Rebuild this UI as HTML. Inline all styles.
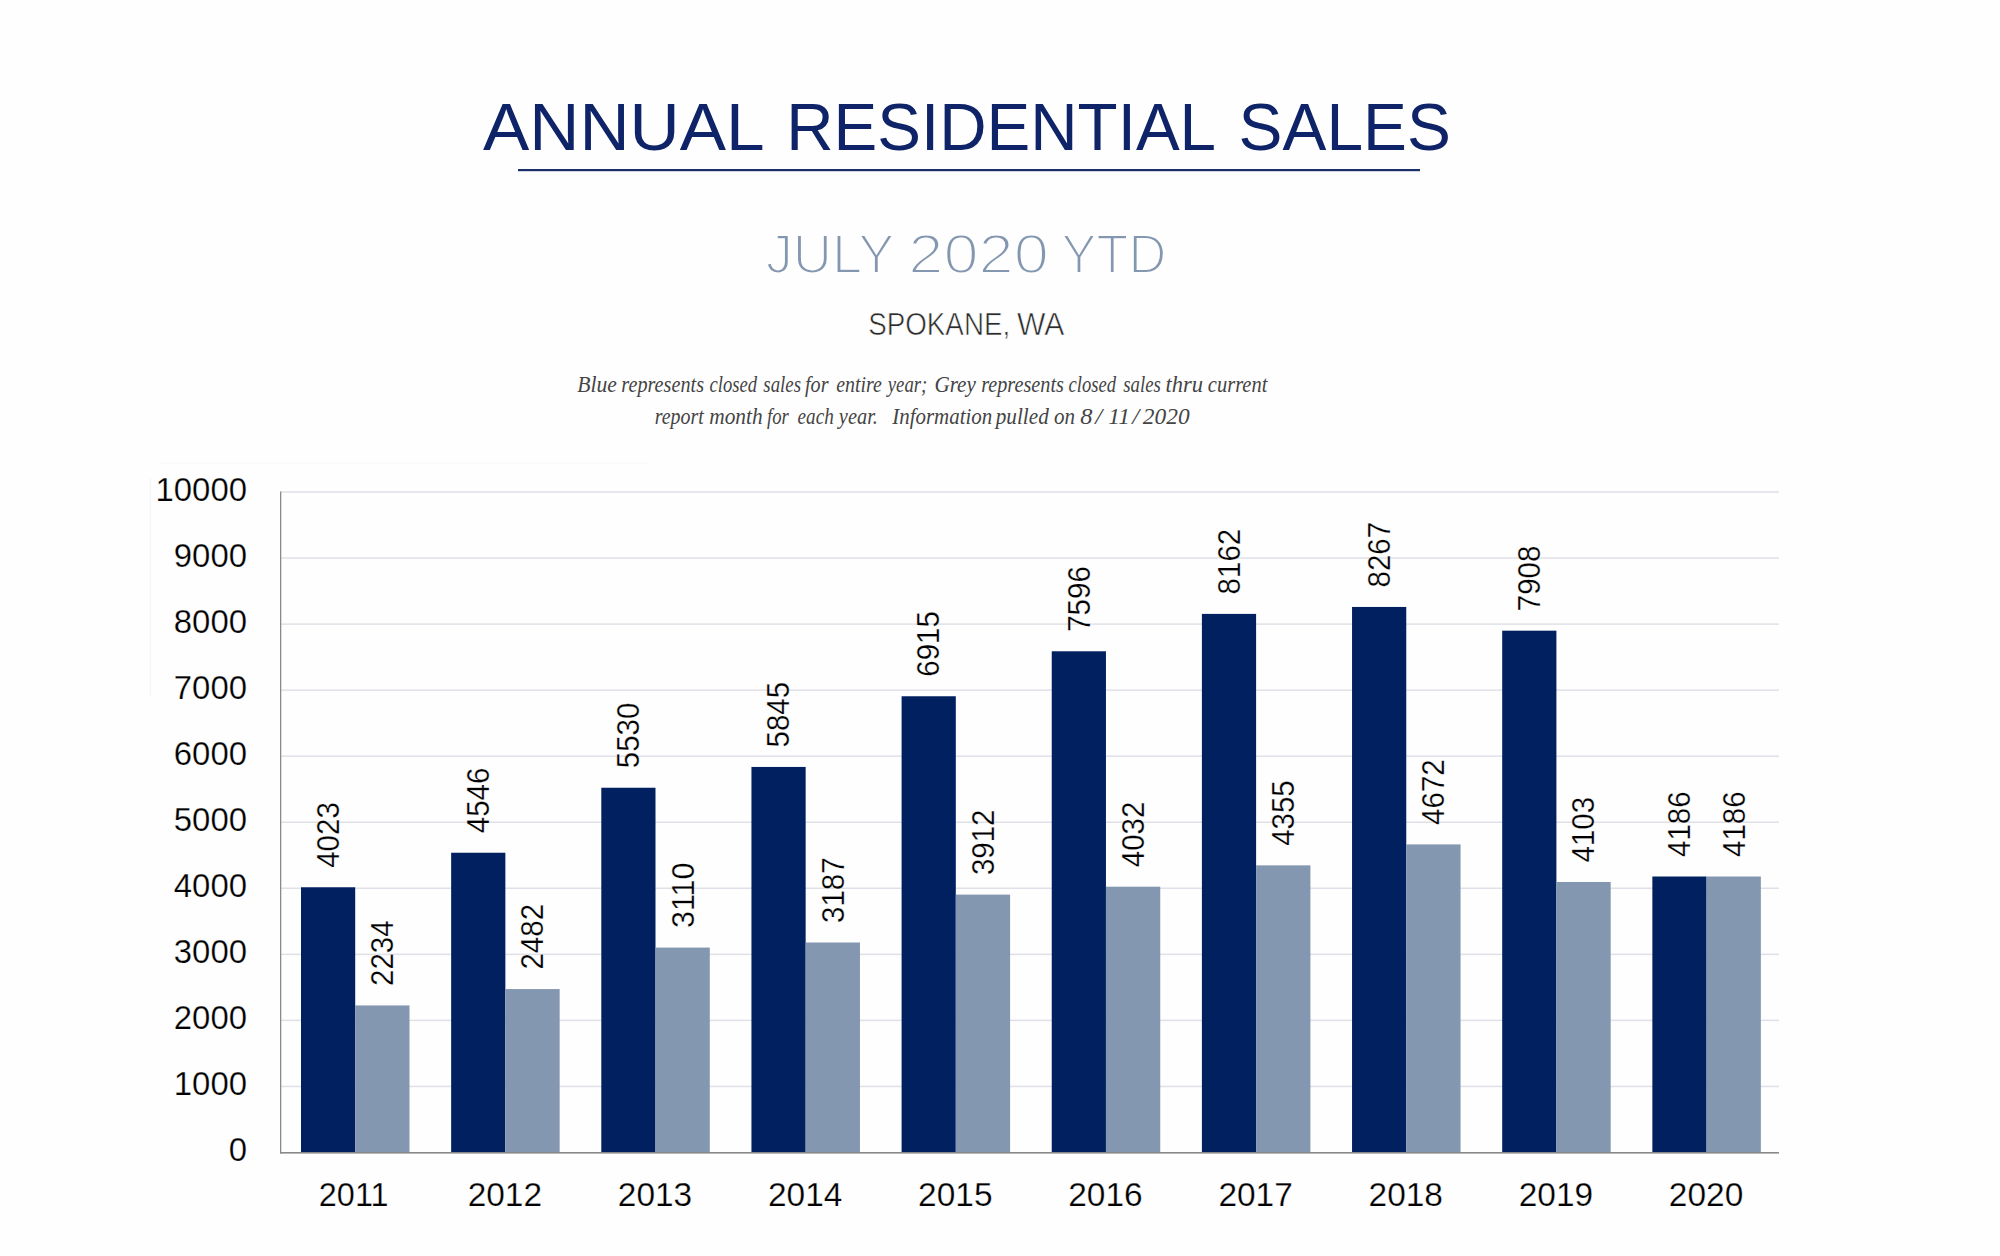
<!DOCTYPE html><html><head><meta charset="utf-8"><style>html,body{margin:0;padding:0;background:#fff;width:2000px;height:1256px;overflow:hidden}svg{display:block}</style></head><body>
<svg width="2000" height="1256" viewBox="0 0 2000 1256">
<rect width="2000" height="1256" fill="#fefefe"/>
<text x="483" y="150" font-family="&quot;Liberation Sans&quot;, sans-serif" font-size="66" fill="#0f2468" textLength="281.6" lengthAdjust="spacingAndGlyphs">ANNUAL</text>
<text x="786.2" y="150" font-family="&quot;Liberation Sans&quot;, sans-serif" font-size="66" fill="#0f2468" textLength="429.9" lengthAdjust="spacingAndGlyphs">RESIDENTIAL</text>
<text x="1238.6" y="150" font-family="&quot;Liberation Sans&quot;, sans-serif" font-size="66" fill="#0f2468" textLength="212.2" lengthAdjust="spacingAndGlyphs">SALES</text>
<rect x="518" y="169" width="902" height="2.2" fill="#1b2f6a"/>
<text x="765.7" y="272.5" font-family="&quot;Liberation Sans&quot;, sans-serif" font-size="55.5" fill="#8497b0" stroke="#fefefe" stroke-width="2.2" textLength="128.8" lengthAdjust="spacingAndGlyphs">JULY</text>
<text x="908.3" y="272.5" font-family="&quot;Liberation Sans&quot;, sans-serif" font-size="55.5" fill="#8497b0" stroke="#fefefe" stroke-width="2.2" textLength="140.5" lengthAdjust="spacingAndGlyphs">2020</text>
<text x="1061.4" y="272.5" font-family="&quot;Liberation Sans&quot;, sans-serif" font-size="55.5" fill="#8497b0" stroke="#fefefe" stroke-width="2.2" textLength="104.9" lengthAdjust="spacingAndGlyphs">YTD</text>
<text x="868.2" y="334.5" font-family="&quot;Liberation Sans&quot;, sans-serif" font-size="31" fill="#2b2b2b" stroke="#fefefe" stroke-width="0.6" textLength="142.0" lengthAdjust="spacingAndGlyphs">SPOKANE,</text>
<text x="1017" y="334.5" font-family="&quot;Liberation Sans&quot;, sans-serif" font-size="31" fill="#2b2b2b" stroke="#fefefe" stroke-width="0.6" textLength="47.4" lengthAdjust="spacingAndGlyphs">WA</text>
<text x="577.18" y="392" font-family="&quot;Liberation Serif&quot;, serif" font-style="italic" font-size="23.5" fill="#444" textLength="39.69" lengthAdjust="spacingAndGlyphs">Blue</text>
<text x="621.34" y="392" font-family="&quot;Liberation Serif&quot;, serif" font-style="italic" font-size="23.5" fill="#444" textLength="82.67" lengthAdjust="spacingAndGlyphs">represents</text>
<text x="709.51" y="392" font-family="&quot;Liberation Serif&quot;, serif" font-style="italic" font-size="23.5" fill="#444" textLength="47.53" lengthAdjust="spacingAndGlyphs">closed</text>
<text x="763.3" y="392" font-family="&quot;Liberation Serif&quot;, serif" font-style="italic" font-size="23.5" fill="#444" textLength="37.7" lengthAdjust="spacingAndGlyphs">sales</text>
<text x="805.0" y="392" font-family="&quot;Liberation Serif&quot;, serif" font-style="italic" font-size="23.5" fill="#444" textLength="23.46" lengthAdjust="spacingAndGlyphs">for</text>
<text x="836.15" y="392" font-family="&quot;Liberation Serif&quot;, serif" font-style="italic" font-size="23.5" fill="#444" textLength="45.65" lengthAdjust="spacingAndGlyphs">entire</text>
<text x="887.72" y="392" font-family="&quot;Liberation Serif&quot;, serif" font-style="italic" font-size="23.5" fill="#444" textLength="39.65" lengthAdjust="spacingAndGlyphs">year;</text>
<text x="934.4" y="392" font-family="&quot;Liberation Serif&quot;, serif" font-style="italic" font-size="23.5" fill="#444" textLength="41.5" lengthAdjust="spacingAndGlyphs">Grey</text>
<text x="981.14" y="392" font-family="&quot;Liberation Serif&quot;, serif" font-style="italic" font-size="23.5" fill="#444" textLength="82.87" lengthAdjust="spacingAndGlyphs">represents</text>
<text x="1068.51" y="392" font-family="&quot;Liberation Serif&quot;, serif" font-style="italic" font-size="23.5" fill="#444" textLength="47.53" lengthAdjust="spacingAndGlyphs">closed</text>
<text x="1123.2" y="392" font-family="&quot;Liberation Serif&quot;, serif" font-style="italic" font-size="23.5" fill="#444" textLength="37.6" lengthAdjust="spacingAndGlyphs">sales</text>
<text x="1165.38" y="392" font-family="&quot;Liberation Serif&quot;, serif" font-style="italic" font-size="23.5" fill="#444" textLength="37.53" lengthAdjust="spacingAndGlyphs">thru</text>
<text x="1207.83" y="392" font-family="&quot;Liberation Serif&quot;, serif" font-style="italic" font-size="23.5" fill="#444" textLength="59.57" lengthAdjust="spacingAndGlyphs">current</text>
<text x="654.65" y="424" font-family="&quot;Liberation Serif&quot;, serif" font-style="italic" font-size="23.5" fill="#444" textLength="49.05" lengthAdjust="spacingAndGlyphs">report</text>
<text x="709.19" y="424" font-family="&quot;Liberation Serif&quot;, serif" font-style="italic" font-size="23.5" fill="#444" textLength="53.49" lengthAdjust="spacingAndGlyphs">month</text>
<text x="767.0" y="424" font-family="&quot;Liberation Serif&quot;, serif" font-style="italic" font-size="23.5" fill="#444" textLength="21.79" lengthAdjust="spacingAndGlyphs">for</text>
<text x="797.58" y="424" font-family="&quot;Liberation Serif&quot;, serif" font-style="italic" font-size="23.5" fill="#444" textLength="36.24" lengthAdjust="spacingAndGlyphs">each</text>
<text x="838.87" y="424" font-family="&quot;Liberation Serif&quot;, serif" font-style="italic" font-size="23.5" fill="#444" textLength="39.03" lengthAdjust="spacingAndGlyphs">year.</text>
<text x="892.2" y="424" font-family="&quot;Liberation Serif&quot;, serif" font-style="italic" font-size="23.5" fill="#444" textLength="100.14" lengthAdjust="spacingAndGlyphs">Information</text>
<text x="995.7" y="424" font-family="&quot;Liberation Serif&quot;, serif" font-style="italic" font-size="23.5" fill="#444" textLength="53.07" lengthAdjust="spacingAndGlyphs">pulled</text>
<text x="1054.1" y="424" font-family="&quot;Liberation Serif&quot;, serif" font-style="italic" font-size="23.5" fill="#444" textLength="21.04" lengthAdjust="spacingAndGlyphs">on</text>
<text x="1080.26" y="424" font-family="&quot;Liberation Serif&quot;, serif" font-style="italic" font-size="23.5" fill="#444" textLength="12.18" lengthAdjust="spacingAndGlyphs">8</text>
<text x="1095.27" y="424" font-family="&quot;Liberation Serif&quot;, serif" font-style="italic" font-size="23.5" fill="#444" textLength="6.97" lengthAdjust="spacingAndGlyphs">/</text>
<text x="1108.2" y="424" font-family="&quot;Liberation Serif&quot;, serif" font-style="italic" font-size="23.5" fill="#444" textLength="21.77" lengthAdjust="spacingAndGlyphs">11</text>
<text x="1132.17" y="424" font-family="&quot;Liberation Serif&quot;, serif" font-style="italic" font-size="23.5" fill="#444" textLength="6.97" lengthAdjust="spacingAndGlyphs">/</text>
<text x="1142.8" y="424" font-family="&quot;Liberation Serif&quot;, serif" font-style="italic" font-size="23.5" fill="#444" textLength="46.8" lengthAdjust="spacingAndGlyphs">2020</text>
<rect x="160" y="462.5" width="488" height="1" fill="#f6f6f6"/>
<rect x="149.5" y="478" width="1.4" height="217" fill="#f6f6f6"/>
<rect x="281" y="1085.70" width="1498" height="1.5" fill="#e0e0e8"/>
<rect x="281" y="1019.65" width="1498" height="1.5" fill="#e0e0e8"/>
<rect x="281" y="953.60" width="1498" height="1.5" fill="#e0e0e8"/>
<rect x="281" y="887.55" width="1498" height="1.5" fill="#e0e0e8"/>
<rect x="281" y="821.50" width="1498" height="1.5" fill="#e0e0e8"/>
<rect x="281" y="755.45" width="1498" height="1.5" fill="#e0e0e8"/>
<rect x="281" y="689.40" width="1498" height="1.5" fill="#e0e0e8"/>
<rect x="281" y="623.35" width="1498" height="1.5" fill="#e0e0e8"/>
<rect x="281" y="557.30" width="1498" height="1.5" fill="#e0e0e8"/>
<rect x="281" y="491.25" width="1498" height="1.5" fill="#e0e0e8"/>
<rect x="301.00" y="887.28" width="54.2" height="265.72" fill="#002060"/>
<rect x="355.20" y="1005.44" width="54.3" height="147.56" fill="#8497b0"/>
<text transform="translate(338.75,867.78) rotate(-90)" font-family="&quot;Liberation Sans&quot;, sans-serif" font-size="31.2" fill="#000" stroke="#fefefe" stroke-width="0.25" textLength="65.6" lengthAdjust="spacingAndGlyphs">4023</text>
<text transform="translate(393.25,985.94) rotate(-90)" font-family="&quot;Liberation Sans&quot;, sans-serif" font-size="31.2" fill="#000" stroke="#fefefe" stroke-width="0.25" textLength="65.6" lengthAdjust="spacingAndGlyphs">2234</text>
<text x="353.70" y="1206" text-anchor="middle" font-family="&quot;Liberation Sans&quot;, sans-serif" font-size="32.4" fill="#000" stroke="#fefefe" stroke-width="0.25">2011</text>
<rect x="451.15" y="852.74" width="54.2" height="300.26" fill="#002060"/>
<rect x="505.35" y="989.06" width="54.3" height="163.94" fill="#8497b0"/>
<text transform="translate(488.90,833.24) rotate(-90)" font-family="&quot;Liberation Sans&quot;, sans-serif" font-size="31.2" fill="#000" stroke="#fefefe" stroke-width="0.25" textLength="65.6" lengthAdjust="spacingAndGlyphs">4546</text>
<text transform="translate(543.40,969.56) rotate(-90)" font-family="&quot;Liberation Sans&quot;, sans-serif" font-size="31.2" fill="#000" stroke="#fefefe" stroke-width="0.25" textLength="65.6" lengthAdjust="spacingAndGlyphs">2482</text>
<text x="504.85" y="1206" text-anchor="middle" font-family="&quot;Liberation Sans&quot;, sans-serif" font-size="32.4" fill="#000" stroke="#fefefe" stroke-width="0.25" textLength="74.4" lengthAdjust="spacingAndGlyphs">2012</text>
<rect x="601.30" y="787.74" width="54.2" height="365.26" fill="#002060"/>
<rect x="655.50" y="947.58" width="54.3" height="205.42" fill="#8497b0"/>
<text transform="translate(639.05,768.24) rotate(-90)" font-family="&quot;Liberation Sans&quot;, sans-serif" font-size="31.2" fill="#000" stroke="#fefefe" stroke-width="0.25" textLength="65.6" lengthAdjust="spacingAndGlyphs">5530</text>
<text transform="translate(693.55,928.08) rotate(-90)" font-family="&quot;Liberation Sans&quot;, sans-serif" font-size="31.2" fill="#000" stroke="#fefefe" stroke-width="0.25" textLength="65.6" lengthAdjust="spacingAndGlyphs">3110</text>
<text x="655.00" y="1206" text-anchor="middle" font-family="&quot;Liberation Sans&quot;, sans-serif" font-size="32.4" fill="#000" stroke="#fefefe" stroke-width="0.25" textLength="74.4" lengthAdjust="spacingAndGlyphs">2013</text>
<rect x="751.45" y="766.94" width="54.2" height="386.06" fill="#002060"/>
<rect x="805.65" y="942.50" width="54.3" height="210.50" fill="#8497b0"/>
<text transform="translate(789.20,747.44) rotate(-90)" font-family="&quot;Liberation Sans&quot;, sans-serif" font-size="31.2" fill="#000" stroke="#fefefe" stroke-width="0.25" textLength="65.6" lengthAdjust="spacingAndGlyphs">5845</text>
<text transform="translate(843.70,923.00) rotate(-90)" font-family="&quot;Liberation Sans&quot;, sans-serif" font-size="31.2" fill="#000" stroke="#fefefe" stroke-width="0.25" textLength="65.6" lengthAdjust="spacingAndGlyphs">3187</text>
<text x="805.15" y="1206" text-anchor="middle" font-family="&quot;Liberation Sans&quot;, sans-serif" font-size="32.4" fill="#000" stroke="#fefefe" stroke-width="0.25" textLength="74.4" lengthAdjust="spacingAndGlyphs">2014</text>
<rect x="901.60" y="696.26" width="54.2" height="456.74" fill="#002060"/>
<rect x="955.80" y="894.61" width="54.3" height="258.39" fill="#8497b0"/>
<text transform="translate(939.35,676.76) rotate(-90)" font-family="&quot;Liberation Sans&quot;, sans-serif" font-size="31.2" fill="#000" stroke="#fefefe" stroke-width="0.25" textLength="65.6" lengthAdjust="spacingAndGlyphs">6915</text>
<text transform="translate(993.85,875.11) rotate(-90)" font-family="&quot;Liberation Sans&quot;, sans-serif" font-size="31.2" fill="#000" stroke="#fefefe" stroke-width="0.25" textLength="65.6" lengthAdjust="spacingAndGlyphs">3912</text>
<text x="955.30" y="1206" text-anchor="middle" font-family="&quot;Liberation Sans&quot;, sans-serif" font-size="32.4" fill="#000" stroke="#fefefe" stroke-width="0.25" textLength="74.4" lengthAdjust="spacingAndGlyphs">2015</text>
<rect x="1051.75" y="651.28" width="54.2" height="501.72" fill="#002060"/>
<rect x="1105.95" y="886.69" width="54.3" height="266.31" fill="#8497b0"/>
<text transform="translate(1089.50,631.78) rotate(-90)" font-family="&quot;Liberation Sans&quot;, sans-serif" font-size="31.2" fill="#000" stroke="#fefefe" stroke-width="0.25" textLength="65.6" lengthAdjust="spacingAndGlyphs">7596</text>
<text transform="translate(1144.00,867.19) rotate(-90)" font-family="&quot;Liberation Sans&quot;, sans-serif" font-size="31.2" fill="#000" stroke="#fefefe" stroke-width="0.25" textLength="65.6" lengthAdjust="spacingAndGlyphs">4032</text>
<text x="1105.45" y="1206" text-anchor="middle" font-family="&quot;Liberation Sans&quot;, sans-serif" font-size="32.4" fill="#000" stroke="#fefefe" stroke-width="0.25" textLength="74.4" lengthAdjust="spacingAndGlyphs">2016</text>
<rect x="1201.90" y="613.90" width="54.2" height="539.10" fill="#002060"/>
<rect x="1256.10" y="865.35" width="54.3" height="287.65" fill="#8497b0"/>
<text transform="translate(1239.65,594.40) rotate(-90)" font-family="&quot;Liberation Sans&quot;, sans-serif" font-size="31.2" fill="#000" stroke="#fefefe" stroke-width="0.25" textLength="65.6" lengthAdjust="spacingAndGlyphs">8162</text>
<text transform="translate(1294.15,845.85) rotate(-90)" font-family="&quot;Liberation Sans&quot;, sans-serif" font-size="31.2" fill="#000" stroke="#fefefe" stroke-width="0.25" textLength="65.6" lengthAdjust="spacingAndGlyphs">4355</text>
<text x="1255.60" y="1206" text-anchor="middle" font-family="&quot;Liberation Sans&quot;, sans-serif" font-size="32.4" fill="#000" stroke="#fefefe" stroke-width="0.25" textLength="74.4" lengthAdjust="spacingAndGlyphs">2017</text>
<rect x="1352.05" y="606.96" width="54.2" height="546.04" fill="#002060"/>
<rect x="1406.25" y="844.41" width="54.3" height="308.59" fill="#8497b0"/>
<text transform="translate(1389.80,587.46) rotate(-90)" font-family="&quot;Liberation Sans&quot;, sans-serif" font-size="31.2" fill="#000" stroke="#fefefe" stroke-width="0.25" textLength="65.6" lengthAdjust="spacingAndGlyphs">8267</text>
<text transform="translate(1444.30,824.91) rotate(-90)" font-family="&quot;Liberation Sans&quot;, sans-serif" font-size="31.2" fill="#000" stroke="#fefefe" stroke-width="0.25" textLength="65.6" lengthAdjust="spacingAndGlyphs">4672</text>
<text x="1405.75" y="1206" text-anchor="middle" font-family="&quot;Liberation Sans&quot;, sans-serif" font-size="32.4" fill="#000" stroke="#fefefe" stroke-width="0.25" textLength="74.4" lengthAdjust="spacingAndGlyphs">2018</text>
<rect x="1502.20" y="630.68" width="54.2" height="522.32" fill="#002060"/>
<rect x="1556.40" y="882.00" width="54.3" height="271.00" fill="#8497b0"/>
<text transform="translate(1539.95,611.18) rotate(-90)" font-family="&quot;Liberation Sans&quot;, sans-serif" font-size="31.2" fill="#000" stroke="#fefefe" stroke-width="0.25" textLength="65.6" lengthAdjust="spacingAndGlyphs">7908</text>
<text transform="translate(1594.45,862.50) rotate(-90)" font-family="&quot;Liberation Sans&quot;, sans-serif" font-size="31.2" fill="#000" stroke="#fefefe" stroke-width="0.25" textLength="65.6" lengthAdjust="spacingAndGlyphs">4103</text>
<text x="1555.90" y="1206" text-anchor="middle" font-family="&quot;Liberation Sans&quot;, sans-serif" font-size="32.4" fill="#000" stroke="#fefefe" stroke-width="0.25" textLength="74.4" lengthAdjust="spacingAndGlyphs">2019</text>
<rect x="1652.35" y="876.51" width="54.2" height="276.49" fill="#002060"/>
<rect x="1706.55" y="876.51" width="54.3" height="276.49" fill="#8497b0"/>
<text transform="translate(1690.10,857.01) rotate(-90)" font-family="&quot;Liberation Sans&quot;, sans-serif" font-size="31.2" fill="#000" stroke="#fefefe" stroke-width="0.25" textLength="65.6" lengthAdjust="spacingAndGlyphs">4186</text>
<text transform="translate(1744.60,857.01) rotate(-90)" font-family="&quot;Liberation Sans&quot;, sans-serif" font-size="31.2" fill="#000" stroke="#fefefe" stroke-width="0.25" textLength="65.6" lengthAdjust="spacingAndGlyphs">4186</text>
<text x="1706.05" y="1206" text-anchor="middle" font-family="&quot;Liberation Sans&quot;, sans-serif" font-size="32.4" fill="#000" stroke="#fefefe" stroke-width="0.25" textLength="74.4" lengthAdjust="spacingAndGlyphs">2020</text>
<rect x="280" y="491.5" width="1.3" height="662" fill="#8a8a8a"/>
<rect x="280" y="1152" width="1499" height="1.6" fill="#8a8a8a"/>
<text x="247" y="1161.00" text-anchor="end" font-family="&quot;Liberation Sans&quot;, sans-serif" font-size="32.9" fill="#000" stroke="#fefefe" stroke-width="0.25">0</text>
<text x="247" y="1094.95" text-anchor="end" font-family="&quot;Liberation Sans&quot;, sans-serif" font-size="32.9" fill="#000" stroke="#fefefe" stroke-width="0.25">1000</text>
<text x="247" y="1028.90" text-anchor="end" font-family="&quot;Liberation Sans&quot;, sans-serif" font-size="32.9" fill="#000" stroke="#fefefe" stroke-width="0.25">2000</text>
<text x="247" y="962.85" text-anchor="end" font-family="&quot;Liberation Sans&quot;, sans-serif" font-size="32.9" fill="#000" stroke="#fefefe" stroke-width="0.25">3000</text>
<text x="247" y="896.80" text-anchor="end" font-family="&quot;Liberation Sans&quot;, sans-serif" font-size="32.9" fill="#000" stroke="#fefefe" stroke-width="0.25">4000</text>
<text x="247" y="830.75" text-anchor="end" font-family="&quot;Liberation Sans&quot;, sans-serif" font-size="32.9" fill="#000" stroke="#fefefe" stroke-width="0.25">5000</text>
<text x="247" y="764.70" text-anchor="end" font-family="&quot;Liberation Sans&quot;, sans-serif" font-size="32.9" fill="#000" stroke="#fefefe" stroke-width="0.25">6000</text>
<text x="247" y="698.65" text-anchor="end" font-family="&quot;Liberation Sans&quot;, sans-serif" font-size="32.9" fill="#000" stroke="#fefefe" stroke-width="0.25">7000</text>
<text x="247" y="632.60" text-anchor="end" font-family="&quot;Liberation Sans&quot;, sans-serif" font-size="32.9" fill="#000" stroke="#fefefe" stroke-width="0.25">8000</text>
<text x="247" y="566.55" text-anchor="end" font-family="&quot;Liberation Sans&quot;, sans-serif" font-size="32.9" fill="#000" stroke="#fefefe" stroke-width="0.25">9000</text>
<text x="247" y="500.50" text-anchor="end" font-family="&quot;Liberation Sans&quot;, sans-serif" font-size="32.9" fill="#000" stroke="#fefefe" stroke-width="0.25">10000</text>
</svg></body></html>
